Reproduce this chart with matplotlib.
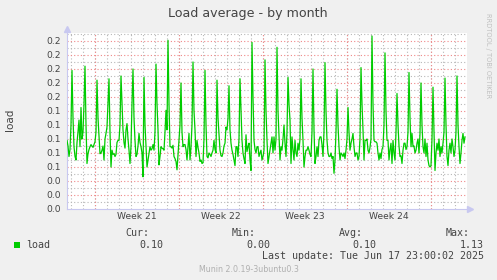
import matplotlib
matplotlib.use('Agg')
import matplotlib.pyplot as plt
from matplotlib.patches import Rectangle
import numpy as np
import pandas as pd

# load average, one sample every 2 hours, oldest first
load_1 = [
    .098, .090, .075, .085, .120, .198, .130, .089, .075, .070,
    .095, .110, .127, .089, .145, .100, .110, .150, .204, .120,
    .065, .079, .085, .089, .092, .090, .088, .092, .096, .110,
    .184, .130, .103, .079, .080, .084, .090, .070, .100, .108,
    .117, .150, .186, .110, .060, .084, .078, .079, .075, .078,
    .095, .098, .098, .120, .190, .150, .113, .095, .087, .113,
    .122, .100, .084, .065, .090, .150, .200, .130, .098, .075,
    .078, .090, .108, .095, .089, .080, .046, .188, .120, .089,
    .060, .070, .080, .089, .084, .086, .092, .084, .110, .207,
    .150, .113, .063, .075, .089, .087, .086, .084, .110, .141,
]
load_2 = [
    .113, .241, .150, .089, .089, .087, .091, .075, .072, .068,
    .056, .077, .098, .120, .180, .110, .089, .092, .092, .085,
    .070, .090, .108, .070, .089, .120, .210, .140, .113, .075,
    .098, .088, .080, .068, .070, .065, .066, .100, .198, .120,
    .075, .073, .080, .078, .075, .080, .084, .098, .085, .080,
    .184, .130, .108, .084, .076, .075, .080, .090, .094, .117,
    .113, .130, .176, .113, .094, .084, .078, .070, .062, .089,
    .089, .075, .100, .186, .140, .098, .080, .072, .065, .106,
    .082, .089, .094, .070, .055, .238, .160, .098, .085, .080,
    .089, .089, .075, .080, .084, .070, .075, .084, .213, .140,
]
load_3 = [
    .098, .065, .075, .085, .094, .103, .080, .103, .084, .100,
    .231, .140, .103, .070, .089, .084, .100, .120, .094, .075,
    .110, .188, .150, .127, .065, .103, .085, .070, .098, .080,
    .075, .094, .084, .100, .186, .130, .098, .060, .075, .084,
    .084, .089, .084, .078, .075, .110, .200, .113, .065, .075,
    .089, .075, .098, .103, .103, .092, .075, .110, .209, .140,
    .098, .080, .075, .075, .080, .072, .075, .051, .070, .110,
    .171, .120, .089, .070, .080, .078, .075, .080, .072, .084,
    .100, .145, .110, .084, .094, .100, .108, .089, .075, .080,
    .080, .070, .075, .100, .202, .150, .113, .070, .098, .098,
]
load_4 = [
    .100, .084, .080, .088, .100, .247, .150, .098, .096, .096,
    .094, .080, .070, .080, .072, .085, .089, .120, .223, .140,
    .098, .098, .070, .085, .094, .065, .098, .080, .070, .110,
    .165, .120, .090, .075, .076, .065, .084, .094, .094, .085,
    .089, .110, .195, .130, .089, .108, .089, .090, .080, .084,
    .094, .100, .080, .108, .180, .120, .089, .080, .100, .075,
    .094, .070, .062, .060, .062, .100, .174, .110, .055, .080,
    .094, .084, .100, .075, .089, .080, .094, .110, .187, .120,
    .075, .062, .084, .094, .080, .100, .089, .075, .084, .110,
    .190, .120, .089, .065, .080, .098, .108, .094, .103,
]
load = load_1 + load_2 + load_3 + load_4

first_sample = '2025-05-15 16:00'
sample_step = '2h'
view_start = '2025-05-15 16:00'
view_end = '2025-06-18 00:00'

week_starts = ['2025-05-18', '2025-05-25', '2025-06-01', '2025-06-08', '2025-06-15']
week_labels = ['Week 21', 'Week 22', 'Week 23', 'Week 24']

stat_names = ['Cur:', 'Min:', 'Avg:', 'Max:']
stat_values = [0.10, 0.00, 0.10, 1.13]
last_update = 'Tue Jun 17 23:00:02 2025'

times = pd.date_range(first_sample, periods=len(load), freq=sample_step)
weeks = pd.to_datetime(week_starts)
days = pd.date_range('2025-05-16', '2025-06-17', freq='D')

W, H = 497, 280
fig = plt.figure(figsize=(W / 100, H / 100), dpi=100, facecolor='#F0F0F0')
ax = fig.add_axes([67 / W, 1 - 209 / H, 400 / W, 176 / H])
ax.set_facecolor('white')

ax.set_xlim(pd.Timestamp(view_start), pd.Timestamp(view_end))
ax.set_ylim(0, 0.2514)

grid_gray = '#B8B8B8'
grid_red = '#F08888'
dots = (0, (1, 2))

# minor grid: every day / every 0.01
for d in days:
    ax.axvline(d, color=grid_gray, lw=0.8, ls=dots, zorder=1)
for y in np.arange(0.01, 0.26, 0.02):
    ax.axhline(y, color=grid_gray, lw=0.8, ls=dots, zorder=1)
# major grid: week starts / every 0.02
for w in weeks:
    ax.axvline(w, color=grid_red, lw=0.8, ls=dots, zorder=2)
for y in np.arange(0.02, 0.25, 0.02):
    ax.axhline(y, color=grid_red, lw=0.8, ls=dots, zorder=2)

ax.plot(times, load, color='#00CC00', lw=0.9, zorder=3)

yt = np.arange(0, 0.25, 0.02)
ax.set_yticks(yt)
ax.set_yticklabels(['%.1f' % v for v in yt])
ax.set_xticks(weeks[:-1] + pd.Timedelta('3.5D'))
ax.set_xticklabels(week_labels)
ax.tick_params(axis='y', length=0, pad=4.5, labelsize=6.6, labelcolor='#444444')
ax.tick_params(axis='x', length=0, pad=2.5, labelsize=6.6, labelcolor='#444444')

for s in ['top', 'right']:
    ax.spines[s].set_visible(False)
for s in ['left', 'bottom']:
    ax.spines[s].set_color('#C8C8F0')
    ax.spines[s].set_linewidth(0.8)
ax.plot([0], [1.025], marker='^', ms=4, color='#C8C8F0', transform=ax.transAxes, clip_on=False)
ax.plot([1.008], [0], marker='>', ms=4, color='#C8C8F0', transform=ax.transAxes, clip_on=False)

def fx(px):
    return px / W

def fy(py):
    return 1 - py / H

fig.text(fx(248), fy(13), 'Load average - by month', ha='center', va='center',
         fontsize=9.1, color='#444444')
fig.text(fx(10), fy(120), 'load', ha='center', va='center', rotation=90,
         fontsize=7.5, color='#444444')
fig.text(fx(488), fy(56), 'RRDTOOL / TOBI OETIKER', ha='center', va='center',
         rotation=270, fontsize=4.8, color='#C0C0C0')

# legend
mono = dict(family='DejaVu Sans Mono', fontsize=7.2, color='#444444')
fig.patches.append(Rectangle((fx(14), fy(247.5)), 6 / W, 5.5 / H, transform=fig.transFigure,
                             facecolor='#00CC00', edgecolor='none'))
fig.text(fx(26), fy(244.5), 'load', ha='left', va='center', **mono)
col_right = [163.5, 270, 376.5, 483.5]
for name, val, xr in zip(stat_names, stat_values, col_right):
    fig.text(fx(xr - 14), fy(233), name, ha='right', va='center', **mono)
    fig.text(fx(xr), fy(244.5), '%.2f' % val, ha='right', va='center', **mono)
fig.text(fx(483.5), fy(256), 'Last update: ' + last_update, ha='right', va='center', **mono)
fig.text(fx(248.5), fy(269.5), 'Munin 2.0.19-3ubuntu0.3', ha='center', va='center',
         fontsize=5.7, color='#B0B0B0')

fig.savefig('out.png', dpi=100, facecolor='#F0F0F0')
